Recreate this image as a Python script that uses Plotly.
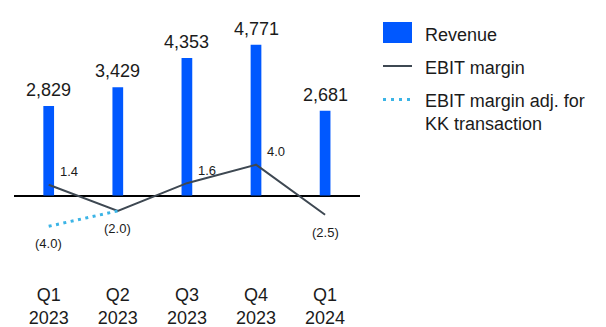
import plotly.graph_objects as go

# Quarterly figures
quarters = ["Q1", "Q2", "Q3", "Q4", "Q1"]
years = ["2023", "2023", "2023", "2023", "2024"]
revenue = [2829, 3429, 4353, 4771, 2681]
ebit_margin = [1.4, -2.0, 1.6, 4.0, -2.5]
ebit_margin_adj = [-4.0, -2.0]          # Q1 2023 and Q2 2023 only

FONT = "Liberation Sans, Arial, sans-serif"
TEXT = "#1b1b1b"
BLUE = "#0058FF"
GREY = "#3E4852"
CYAN = "#3BB4E6"

W, HGT = 606, 327
MB = 45                      # bottom margin for the quarter labels
PH = HGT - MB                # plot-area height in px
BASE_PX = 195.5              # zero line position from the top
REV_PX = 0.0316              # px per revenue unit
MAR_PX = 7.7                 # px per margin point

rev_top = BASE_PX / REV_PX
rev_rng = [rev_top - PH / REV_PX, rev_top]
mar_top = BASE_PX / MAR_PX
mar_rng = [mar_top - PH / MAR_PX, mar_top]

xs = list(range(len(quarters)))
ticktext = [f"{q}<br>{y}" for q, y in zip(quarters, years)]


def fmt_margin(v):
    return f"{v:.1f}" if v >= 0 else f"({abs(v):.1f})"


fig = go.Figure()
fig.add_trace(go.Bar(x=xs, y=revenue, marker=dict(color=BLUE, line=dict(width=0)),
                     width=0.155, yaxis="y", hoverinfo="skip", showlegend=False))
fig.add_trace(go.Scatter(x=xs, y=ebit_margin, mode="lines", yaxis="y2",
                         line=dict(color=GREY, width=2), showlegend=False))
fig.add_trace(go.Scatter(x=xs[:len(ebit_margin_adj)], y=ebit_margin_adj, mode="lines",
                         yaxis="y2", line=dict(color=CYAN, width=3, dash="3px,4.5px"),
                         showlegend=False))

ann = []
# revenue values above the bars
for x, v in zip(xs, revenue):
    ann.append(dict(x=x, y=v, xref="x", yref="y", text=f"{v:,}", showarrow=False,
                    yanchor="middle", yshift=16, font=dict(size=18, color=TEXT, family=FONT)))
# margin values next to the line points
for x, v in zip(xs, ebit_margin):
    ann.append(dict(x=x, y=v, xref="x", yref="y2", text=fmt_margin(v), showarrow=False,
                    xshift=20 if v >= 0 else 0, yshift=13 if v >= 0 else -18,
                    font=dict(size=13, color=TEXT, family=FONT)))
ann.append(dict(x=xs[0], y=ebit_margin_adj[0], xref="x", yref="y2",
                text=fmt_margin(ebit_margin_adj[0]), showarrow=False, yshift=-17,
                font=dict(size=13, color=TEXT, family=FONT)))


# legend drawn in paper space
def px_x(p):
    return p / W


def px_y(p):
    return (PH - p) / PH


shapes = [
    dict(type="rect", xref="paper", yref="paper", x0=px_x(383), x1=px_x(412),
         y0=px_y(43), y1=px_y(22), fillcolor=BLUE, line=dict(width=0)),
    dict(type="line", xref="paper", yref="paper", x0=px_x(383), x1=px_x(412),
         y0=px_y(66), y1=px_y(66), line=dict(color=GREY, width=2)),
    dict(type="line", xref="paper", yref="paper", x0=px_x(383), x1=px_x(412),
         y0=px_y(99.5), y1=px_y(99.5), line=dict(color=CYAN, width=3, dash="3px,5px")),
]
legend_items = [("Revenue", 34.5), ("EBIT margin", 68), ("EBIT margin adj. for<br>KK transaction", 112)]
for label, cy in legend_items:
    ann.append(dict(x=px_x(423), y=px_y(cy), xref="paper", yref="paper", text=label,
                    showarrow=False, xanchor="left", yanchor="middle", align="left",
                    font=dict(size=18, color=TEXT, family=FONT)))

x_left, x_right = 48.7 - 0.5 * 69.1, 48.7 + 4.5 * 69.1
fig.update_layout(
    width=W, height=HGT,
    margin=dict(l=0, r=0, t=0, b=MB),
    paper_bgcolor="white", plot_bgcolor="white",
    xaxis=dict(domain=[x_left / W, x_right / W], range=[-0.5, 4.5],
               tickvals=xs, ticktext=ticktext, showgrid=False, showline=False,
               zeroline=False, ticks="", tickfont=dict(size=18, color=TEXT, family=FONT)),
    yaxis=dict(range=rev_rng, showgrid=False, showticklabels=False, zeroline=True,
               zerolinecolor="#000000", zerolinewidth=2),
    yaxis2=dict(range=mar_rng, overlaying="y", showgrid=False, showticklabels=False,
                zeroline=False),
    shapes=shapes, annotations=ann, showlegend=False,
)

fig.write_html("out.html")
